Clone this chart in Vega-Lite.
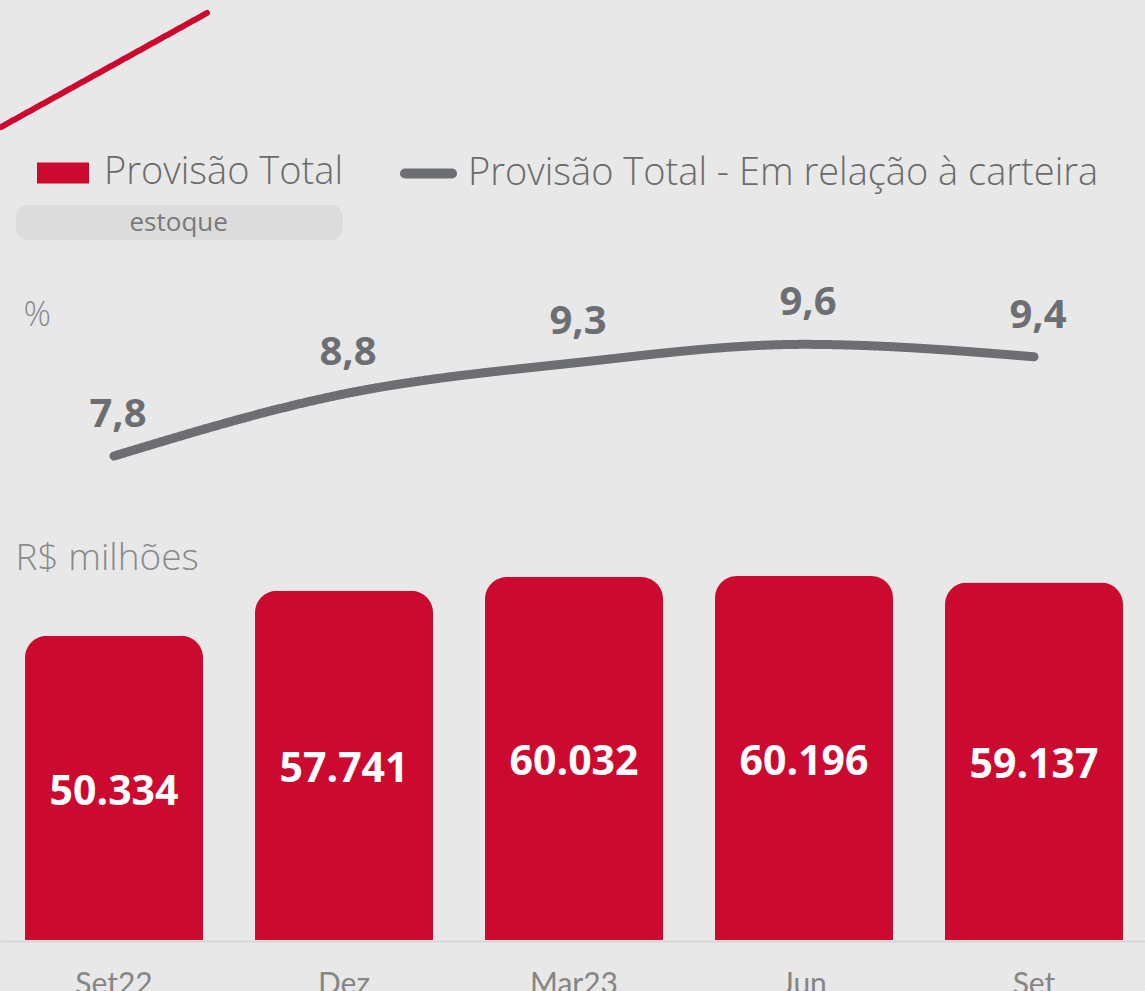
{
  "$schema": "https://vega.github.io/schema/vega-lite/v6.json",
  "width": 1145,
  "height": 940,
  "autosize": {"type": "none"},
  "padding": {"left": 0, "right": 0, "top": 0, "bottom": 51},
  "background": "#e8e8e8",
  "config": {
    "view": {"stroke": null},
    "locale": {"number": {"decimal": ",", "thousands": ".", "grouping": [3], "currency": ["R$", ""]}}
  },
  "data": {
    "values": [
      {"mes": "Set22", "provisao": 50334, "pct": 7.8},
      {"mes": "Dez", "provisao": 57741, "pct": 8.8},
      {"mes": "Mar23", "provisao": 60032, "pct": 9.3},
      {"mes": "Jun", "provisao": 60196, "pct": 9.6},
      {"mes": "Set", "provisao": 59137, "pct": 9.4}
    ]
  },
  "encoding": {
    "x": {
      "field": "mes", "type": "nominal", "sort": null,
      "scale": {"paddingInner": 0.2261, "paddingOuter": 0.1022, "align": 0.532},
      "axis": {
        "title": null, "labelAngle": 0, "ticks": false, "offset": 1,
        "domainColor": "#d6d6d6", "domainWidth": 2,
        "labelFont": "Lato", "labelFontSize": 30, "labelColor": "#858585",
        "labelBaseline": "top", "labelPadding": 28
      }
    }
  },
  "layer": [
    {
      "mark": {"type": "bar", "cornerRadiusTopLeft": 22, "cornerRadiusTopRight": 22},
      "encoding": {
        "y": {
          "field": "provisao", "type": "quantitative",
          "scale": {"domain": [0, 155450], "nice": false, "zero": true},
          "axis": {
            "orient": "left", "title": "R$ milhões", "labels": false, "ticks": false, "domain": false, "grid": false,
            "titleAngle": 0, "titleX": 15, "titleY": 558, "titleAlign": "left", "titleBaseline": "middle",
            "titleFont": "Open Sans", "titleFontSize": 37, "titleFontWeight": 300, "titleColor": "#8a8a8a"
          }
        },
        "fill": {
          "datum": "Provisão Total", "type": "nominal",
          "scale": {"range": ["#cc0a2f"]},
          "legend": {
            "orient": "none", "legendX": 37, "legendY": 147, "title": null, "padding": 0,
            "symbolType": "M-1,-0.4H1V0.4H-1Z", "symbolSize": 2704, "symbolStrokeWidth": 0,
            "labelFont": "Open Sans", "labelFontSize": 38, "labelFontWeight": 300, "labelColor": "#6b6b6b", "labelOffset": 15, "labelLimit": 900
          }
        }
      }
    },
    {
      "mark": {"type": "text", "font": "Open Sans", "fontWeight": "bold", "fontSize": 41, "color": "#ffffff", "baseline": "middle", "dy": 5},
      "encoding": {
        "y": {"field": "provisao", "type": "quantitative", "scale": {"domain": [0, 310900], "nice": false}, "axis": null},
        "text": {"field": "provisao", "type": "quantitative", "format": ",.0f"}
      }
    },
    {
      "mark": {"type": "line", "interpolate": "monotone", "strokeCap": "round", "strokeJoin": "round", "strokeWidth": 9},
      "encoding": {
        "y": {
          "field": "pct", "type": "quantitative",
          "scale": {"domain": [0, 15.15], "nice": false},
          "axis": {
            "orient": "left", "title": "%", "labels": false, "ticks": false, "domain": false, "grid": false,
            "titleAngle": 0, "titleX": 23, "titleY": 315, "titleAlign": "left", "titleBaseline": "middle",
            "titleFont": "Open Sans", "titleFontSize": 34, "titleFontWeight": 300, "titleColor": "#8a8a8a"
          }
        },
        "stroke": {
          "datum": "Provisão Total - Em relação à carteira", "type": "nominal",
          "scale": {"range": ["#6d6e71"]},
          "legend": {
            "orient": "none", "legendX": 400, "legendY": 145, "title": null, "padding": 0,
            "symbolType": "stroke", "symbolSize": 2209, "symbolStrokeWidth": 10,
            "labelFont": "Open Sans", "labelFontSize": 38, "labelFontWeight": 300, "labelColor": "#6b6b6b", "labelOffset": 11, "labelLimit": 900,
            "encode": {"symbols": {"update": {"strokeCap": {"value": "round"}}}}
          }
        },
        "strokeDash": {
          "datum": "decor", "type": "nominal",
          "scale": {"range": [[1, 0]]},
          "legend": {
            "orient": "none", "legendX": -2, "legendY": -36, "title": null, "padding": 0,
            "symbolType": "M-1,0.5534L1,-0.5534", "symbolSize": 42436,
            "symbolStrokeColor": "#cc0a2f", "symbolStrokeWidth": 6, "symbolFillColor": "transparent",
            "labelExpr": "''", "labelFontSize": 1, "labelOffset": 0,
            "encode": {"symbols": {"update": {"strokeCap": {"value": "round"}, "strokeDash": {"value": [1, 0]}, "opacity": {"value": 1}}}}
          }
        }
      }
    },
    {
      "mark": {"type": "text", "font": "Open Sans", "fontWeight": "bold", "fontSize": 40, "color": "#6d6e71", "baseline": "middle", "dy": -41, "dx": 4},
      "encoding": {
        "y": {"field": "pct", "type": "quantitative", "scale": {"domain": [0, 15.15], "nice": false}, "axis": null},
        "text": {"field": "pct", "type": "quantitative", "format": ".1f"},
        "opacity": {
          "datum": "estoque", "type": "nominal",
          "scale": {"range": [1]},
          "legend": {
            "orient": "none", "legendX": 16, "legendY": 205, "title": ".", "titleOrient": "right", "titleOpacity": 0, "titleColor": "transparent",
            "titleFontSize": 24, "titlePadding": 104,
            "symbolType": "M0,0", "symbolSize": 1, "symbolFillColor": "transparent", "symbolStrokeColor": "transparent", "symbolStrokeWidth": 0,
            "labelFont": "Open Sans", "labelFontSize": 26, "labelFontWeight": 400, "labelColor": "#7a7a7a", "labelOffset": 83,
            "fillColor": "#dcdcdc", "cornerRadius": 12, "padding": 4.5,
            "encode": {"symbols": {"update": {"opacity": {"value": 0}}}}
          }
        }
      }
    }
  ],
  "resolve": {"scale": {"y": "independent"}, "axis": {"y": "independent"}}
}
